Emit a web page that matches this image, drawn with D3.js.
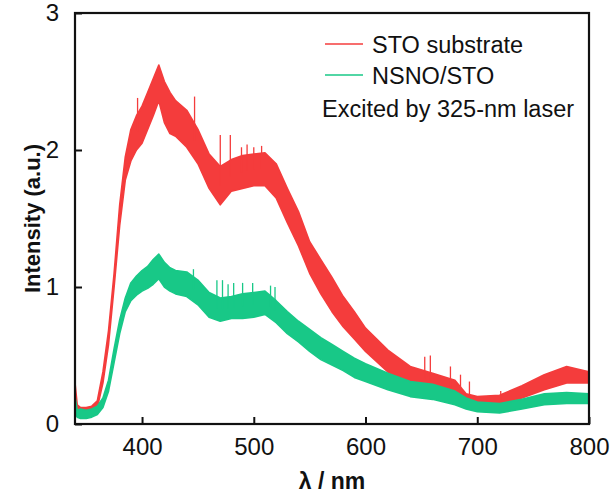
<!DOCTYPE html>
<html>
<head>
<meta charset="utf-8">
<script src="https://cdn.jsdelivr.net/npm/d3@7"></script>
<style>
html,body{margin:0;padding:0;background:#fff;}
svg{display:block;}
text{font-family:"Liberation Sans",Arial,sans-serif;fill:#111;}
</style>
</head>
<body>
<svg id="chart" width="611" height="495"></svg>
<script>
// ---- data ----
const wavelength = [340,342,345,350,355,360,365,370,375,380,385,390,395,400,405,410,415,420,425,430,440,450,460,470,480,490,500,510,520,530,540,550,560,570,580,590,600,620,640,660,680,690,700,720,740,760,780,800];
const stoLow  = [0.12,0.09,0.08,0.08,0.09,0.12,0.30,0.58,1.00,1.45,1.78,1.92,2.00,2.05,2.15,2.25,2.36,2.20,2.12,2.10,2.02,1.90,1.72,1.60,1.70,1.72,1.74,1.74,1.65,1.47,1.30,1.10,0.95,0.82,0.71,0.62,0.53,0.38,0.30,0.26,0.20,0.15,0.14,0.14,0.19,0.25,0.30,0.30];
const stoHigh = [0.30,0.14,0.12,0.12,0.13,0.17,0.38,0.68,1.10,1.60,1.95,2.15,2.25,2.32,2.42,2.52,2.62,2.50,2.42,2.36,2.29,2.15,1.97,1.88,1.93,1.96,1.97,1.98,1.90,1.72,1.55,1.33,1.20,1.07,0.93,0.82,0.70,0.54,0.42,0.37,0.32,0.22,0.20,0.21,0.28,0.36,0.42,0.38];
const nsnoLow  = [0.08,0.05,0.04,0.04,0.05,0.07,0.12,0.24,0.45,0.66,0.82,0.90,0.94,0.97,0.99,1.02,1.06,1.00,0.97,0.95,0.93,0.87,0.78,0.75,0.77,0.77,0.78,0.80,0.74,0.66,0.60,0.53,0.47,0.43,0.39,0.34,0.31,0.25,0.20,0.18,0.14,0.11,0.09,0.08,0.11,0.14,0.15,0.15];
const nsnoHigh = [0.20,0.10,0.11,0.10,0.11,0.13,0.19,0.32,0.55,0.76,0.92,1.03,1.08,1.12,1.15,1.20,1.24,1.18,1.14,1.12,1.11,1.05,0.96,0.92,0.93,0.95,0.96,0.97,0.90,0.82,0.75,0.69,0.63,0.58,0.53,0.48,0.44,0.37,0.31,0.29,0.24,0.19,0.16,0.15,0.18,0.22,0.23,0.22];
// isolated noise spikes: [wavelength, peak value]
const stoSpikes  = [[396,2.38],[447,2.39],[470,2.11],[479,2.11],[489,2.02],[494,2.04],[500,2.02],[507,2.03],[653,0.49],[658,0.50],[676,0.42],[685,0.36],[693,0.31],[721,0.24]];
const nsnoSpikes = [[446,1.13],[467,1.05],[472,1.05],[477,1.02],[482,1.03],[490,1.03],[499,1.03],[515,1.01],[519,1.00]];
const xTicks = [400,500,600,700,800];
const yTicks = [0,1,2,3];
const seriesNames = ["STO substrate","NSNO/STO"];
const noteText = "Excited by 325-nm laser";
const xTitle = "λ / nm";
const yTitle = "Intensity (a.u.)";

// ---- layout ----
const colors = ["#f43c3c","#18c887"];
const m = {left:75, right:589, top:13, bottom:424};
const svg = d3.select("#chart");
const x = d3.scaleLinear().domain([340,800]).range([m.left,m.right]);
const y = d3.scaleLinear().domain([0,3]).range([m.bottom,m.top]);

const series = [
  {lo:stoLow, hi:stoHigh, spikes:stoSpikes},
  {lo:nsnoLow, hi:nsnoHigh, spikes:nsnoSpikes}
];
const area = d3.area()
  .x(d=>x(d.w)).y0(d=>y(d.lo)).y1(d=>y(d.hi));

svg.append("clipPath").attr("id","clip").append("rect")
  .attr("x",m.left).attr("y",m.top).attr("width",m.right-m.left).attr("height",m.bottom-m.top);
const plot = svg.append("g").attr("clip-path","url(#clip)");

series.forEach((s,i)=>{
  const pts = wavelength.map((w,k)=>({w, lo:s.lo[k], hi:s.hi[k]}));
  plot.append("path").datum(pts)
    .attr("d",area)
    .attr("fill",colors[i]).attr("stroke",colors[i]).attr("stroke-width",1.6)
    .attr("stroke-linejoin","round");
  const mid = d3.scaleLinear().domain(wavelength).range(wavelength.map((w,k)=>(s.lo[k]+s.hi[k])/2));
  plot.selectAll(null).data(s.spikes).enter().append("line")
    .attr("x1",d=>x(d[0])).attr("x2",d=>x(d[0]))
    .attr("y1",d=>y(mid(d[0]))).attr("y2",d=>y(d[1]))
    .attr("stroke",colors[i]).attr("stroke-width",1.3);
});

// ---- axes ----
const tickLen = 7;
const xAxis = d3.axisBottom(x).tickValues(xTicks).tickSizeInner(-tickLen).tickSizeOuter(0).tickPadding(14).tickFormat(d3.format("d"));
const gx = svg.append("g").attr("transform",`translate(0,${m.bottom})`).call(xAxis);
const yAxis = d3.axisLeft(y).tickValues(yTicks).tickSizeInner(-tickLen).tickSizeOuter(0).tickPadding(20).tickFormat(d3.format("d"));
const gy = svg.append("g").attr("transform",`translate(${m.left},0)`).call(yAxis);
[gx,gy].forEach(g=>{
  g.select(".domain").remove();
  g.selectAll(".tick line").attr("stroke","#111").attr("stroke-width",2);
  g.selectAll(".tick text").attr("font-size",24).attr("font-family","Liberation Sans, Arial, sans-serif").attr("fill","#111");
});
gy.selectAll(".tick text").attr("x",-16);
// frame
svg.append("rect").attr("x",m.left).attr("y",m.top).attr("width",m.right-m.left).attr("height",m.bottom-m.top)
  .attr("fill","none").attr("stroke","#111").attr("stroke-width",2.2);

// titles
svg.append("text").attr("x",(m.left+m.right)/2).attr("y",489).attr("text-anchor","middle")
  .attr("font-size",23).attr("font-weight","bold").text(xTitle);
svg.append("text").attr("transform",`translate(40,${(m.top+m.bottom)/2}) rotate(-90)`).attr("text-anchor","middle")
  .attr("font-size",22).attr("font-weight","bold").text(yTitle);

// legend
const legY = [44,75];
seriesNames.forEach((n,i)=>{
  svg.append("line").attr("x1",325).attr("x2",363).attr("y1",legY[i]).attr("y2",legY[i])
    .attr("stroke",colors[i]).attr("stroke-width",1.6);
  svg.append("text").attr("x",372).attr("y",legY[i]+9).attr("font-size",23.5).text(n);
});
svg.append("text").attr("x",322).attr("y",117).attr("font-size",23.5).text(noteText);
</script>
</body>
</html>
